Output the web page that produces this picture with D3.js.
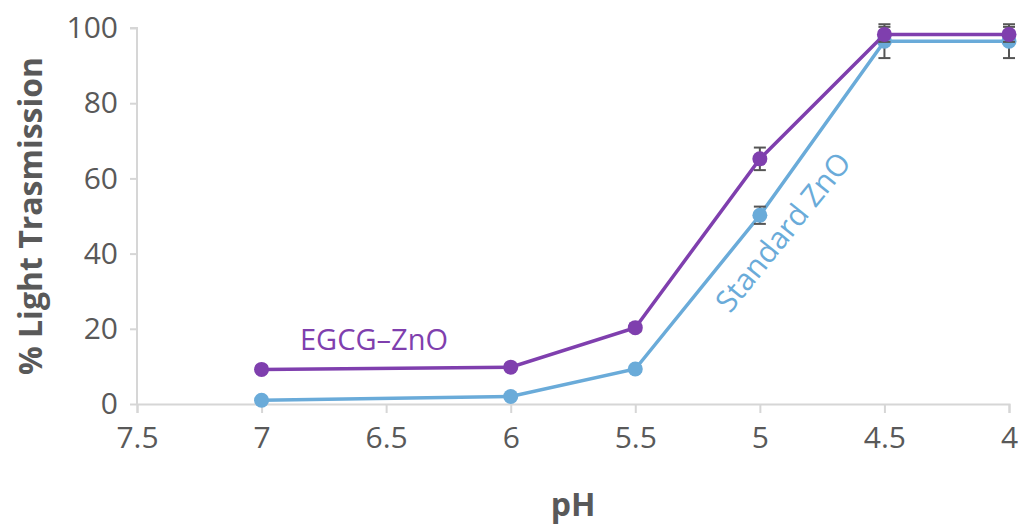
<!DOCTYPE html>
<html>
<head>
<meta charset="utf-8">
<script src="https://cdn.jsdelivr.net/npm/d3@7"></script>
<style>
  body { margin: 0; background: #fff; }
  svg text { font-family: "Open Sans", "Liberation Sans", sans-serif; }
</style>
</head>
<body>
<div id="chart"></div>
<script>
// Data
var phValues = [7, 6, 5.5, 5, 4.5, 4];
var egcgValues = [9.2, 9.8, 20.3, 65.2, 98.3, 98.3];
var egcgErrors = [0.8, 0.8, 1, 3, 2, 2];
var standardValues = [1, 2, 9.3, 50.2, 96.5, 96.5];
var standardErrors = [0.6, 0.6, 0.8, 2.3, 4.5, 4.5];
var xTicks = [7.5, 7, 6.5, 6, 5.5, 5, 4.5, 4];
var yTicks = [0, 20, 40, 60, 80, 100];

var width = 1022, height = 528;
var margin = {top: 28, right: 13, bottom: 124, left: 137};
var purple = '#7f3fae', blue = '#6aabd9', textColor = '#595959', axisColor = '#d6d6d6';

var x = d3.scaleLinear().domain([7.5, 4]).range([margin.left, width - margin.right]);
var y = d3.scaleLinear().domain([0, 100]).range([height - margin.bottom, margin.top]);

var svg = d3.select('#chart').append('svg')
    .attr('width', width)
    .attr('height', height);

// Y axis
var yAxis = svg.append('g')
    .attr('transform', 'translate(' + margin.left + ',0)')
    .call(d3.axisLeft(y).tickValues(yTicks).tickSize(7).tickPadding(12));
yAxis.selectAll('text').attr('fill', textColor).style('font-size', '30px');

// X axis
var xAxis = svg.append('g')
    .attr('transform', 'translate(0,' + y(0) + ')')
    .call(d3.axisBottom(x).tickValues(xTicks).tickSize(9).tickPadding(14).tickFormat(d3.format('')));
xAxis.selectAll('text').attr('fill', textColor).style('font-size', '30px');

svg.selectAll('.domain, .tick line').attr('stroke', axisColor).attr('stroke-width', 2);
yAxis.select('.domain').attr('d', 'M-7,' + y(100) + 'H0V' + y(0));

// Axis titles
svg.append('text')
    .attr('transform', 'translate(42,' + ((y(0) + y(100)) / 2) + ') rotate(-90)')
    .attr('text-anchor', 'middle')
    .attr('fill', textColor)
    .style('font-size', '32px')
    .style('font-weight', 'bold')
    .text('% Light Trasmission');

svg.append('text')
    .attr('x', (x(7.5) + x(4)) / 2)
    .attr('y', 516)
    .attr('text-anchor', 'middle')
    .attr('fill', textColor)
    .style('font-size', '32px')
    .style('font-weight', 'bold')
    .text('pH');

// Series
var series = [
    {name: 'Standard ZnO', values: standardValues, errors: standardErrors, color: blue},
    {name: 'EGCG-ZnO', values: egcgValues, errors: egcgErrors, color: purple}
];

var line = d3.line()
    .x(function(d) { return x(d.ph); })
    .y(function(d) { return y(d.v); });

series.forEach(function(s) {
    var pts = phValues.map(function(ph, i) { return {ph: ph, v: s.values[i], e: s.errors[i]}; });
    var g = svg.append('g');

    g.append('path')
        .datum(pts)
        .attr('fill', 'none')
        .attr('stroke', s.color)
        .attr('stroke-width', 3.5)
        .attr('d', line);

    // Error bars (drawn under the markers, so small ones stay hidden)
    var eb = g.selectAll('.err')
        .data(pts)
        .enter()
        .append('g')
        .attr('stroke', '#555')
        .attr('stroke-width', 2);
    eb.append('line')
        .attr('x1', function(d) { return x(d.ph); })
        .attr('x2', function(d) { return x(d.ph); })
        .attr('y1', function(d) { return y(d.v - d.e); })
        .attr('y2', function(d) { return y(d.v + d.e); });
    eb.append('line')
        .attr('x1', function(d) { return x(d.ph) - 6; })
        .attr('x2', function(d) { return x(d.ph) + 6; })
        .attr('y1', function(d) { return y(d.v - d.e); })
        .attr('y2', function(d) { return y(d.v - d.e); });
    eb.append('line')
        .attr('x1', function(d) { return x(d.ph) - 6; })
        .attr('x2', function(d) { return x(d.ph) + 6; })
        .attr('y1', function(d) { return y(d.v + d.e); })
        .attr('y2', function(d) { return y(d.v + d.e); });

    g.selectAll('circle')
        .data(pts)
        .enter()
        .append('circle')
        .attr('cx', function(d) { return x(d.ph); })
        .attr('cy', function(d) { return y(d.v); })
        .attr('r', 7.5)
        .attr('fill', s.color);
});

// Series labels
svg.append('text')
    .attr('x', 300)
    .attr('y', 350)
    .attr('fill', purple)
    .style('font-size', '29px')
    .text('EGCG\u2013ZnO');

svg.append('text')
    .attr('transform', 'translate(783,232) rotate(-51)')
    .attr('text-anchor', 'middle')
    .attr('dy', '0.35em')
    .attr('fill', blue)
    .style('font-size', '30px')
    .text('Standard ZnO');
</script>
</body>
</html>
